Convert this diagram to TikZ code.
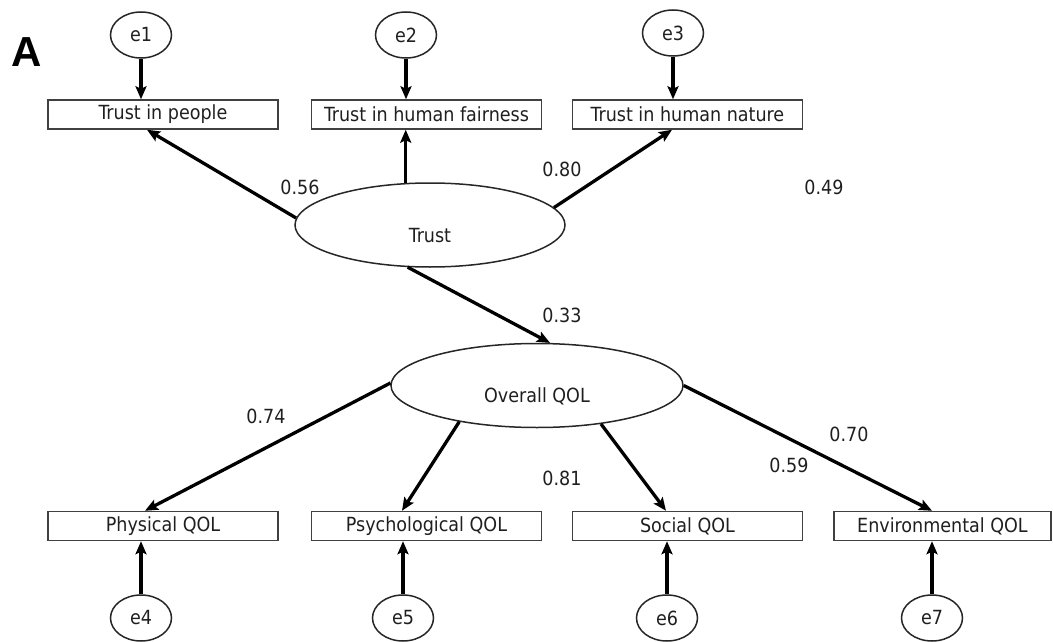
\documentclass[tikz,border=0pt]{standalone}
\usepackage{fontspec}
\setmainfont{DejaVu Sans Condensed}
\newfontfamily\panelfont{Liberation Sans}
\usetikzlibrary{arrows.meta,shapes.geometric}
\begin{document}
\begin{tikzpicture}[x=1pt,y=-1pt,
  txt/.style={font=\fontsize{19.5}{21}\selectfont, text=black!88},
  obs/.style={txt, draw=black!75, line width=1.5pt, rectangle, minimum width=230pt, minimum height=29pt, inner sep=0pt},
  err/.style={txt, draw=black!85, line width=1.5pt, ellipse, minimum width=61pt, minimum height=46pt, inner sep=0pt},
  lat/.style={txt, draw=black!85, line width=1.5pt, ellipse, inner sep=0pt, text height=34pt, text depth=0pt},
  arr/.style={line width=3.3pt, -{Stealth[length=13pt,width=11pt,inset=2.5pt]}},
  num/.style={txt, inner sep=0pt}]
\useasboundingbox (0,0) rectangle (1053,642);

\node[font=\panelfont\bfseries\fontsize{42}{42}\selectfont, inner sep=0pt] (A) at (27,52) {A};

% top row
\node[obs] (b1) at (163,114.5) {Trust in people};
\node[obs] (b2) at (426.5,114.5) {Trust in human fairness};
\node[obs] (b3) at (687.5,114.5) {Trust in human nature};
\node[err] (e1) at (141,35) {e1};
\node[err] (e2) at (406,35) {e2};
\node[err] (e3) at (673,33) {e3};

% latent
\node[lat, minimum width=270pt, minimum height=84pt] (trust) at (430,225) {Trust};
\node[lat, minimum width=292pt, minimum height=84pt] (oq) at (537,385.5) {Overall QOL};

% bottom row
\node[obs] (b4) at (163,526) {Physical QOL};
\node[obs] (b5) at (426.5,526) {Psychological QOL};
\node[obs] (b6) at (687.5,526) {Social QOL};
\node[obs, minimum width=217pt] (b7) at (942.5,526) {Environmental QOL};
\node[err] (e4) at (141,618) {e4};
\node[err] (e5) at (403,618) {e5};
\node[err] (e6) at (667,618) {e6};
\node[err] (e7) at (932,618) {e7};

% error arrows
\draw[arr] (e1.south) -- (e1.south |- b1.north);
\draw[arr] (e2.south) -- (e2.south |- b2.north);
\draw[arr] (e3.south) -- (e3.south |- b3.north);
\draw[arr] (e4.north) -- (e4.north |- b4.south);
\draw[arr] (e5.north) -- (e5.north |- b5.south);
\draw[arr] (e6.north) -- (e6.north |- b6.south);
\draw[arr] (e7.north) -- (e7.north |- b7.south);

% trust loadings
\draw[arr] (trust.177) -- ([xshift=-16pt]b1.south);
\draw[arr] (trust.120) -- (trust.120 |- b2.south);
\draw[arr] (trust.8) -- ([xshift=-15.5pt]b3.south);
\draw[arr] (trust.242) -- (oq.73);

% QOL loadings
\draw[arr] (oq.179) -- ([xshift=-18pt]b4.north);
\draw[arr] (oq.205) -- ([xshift=-24.5pt]b5.north);
\draw[arr] (oq.329) -- ([xshift=-21.5pt]b6.north);
\draw[arr] (oq.east) -- ([xshift=-10.5pt]b7.north);

% coefficients
\node[num] (n56) at (300,187) {0.56};
\node[num] (n80) at (562,169) {0.80};
\node[num] (n49) at (824,187) {0.49};
\node[num] (n33) at (562,315) {0.33};
\node[num] (n74) at (266,416) {0.74};
\node[num] (n81) at (562,478) {0.81};
\node[num] (n59) at (789,465) {0.59};
\node[num] (n70) at (849,434) {0.70};
\end{tikzpicture}
\end{document}
